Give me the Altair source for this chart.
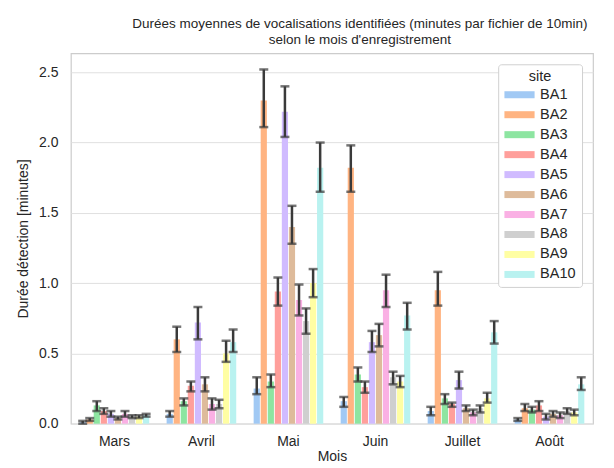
import altair as alt
import pandas as pd

months = ["Mars", "Avril", "Mai", "Juin", "Juillet", "Août"]
sites = ["BA1", "BA2", "BA3", "BA4", "BA5", "BA6", "BA7", "BA8", "BA9", "BA10"]
colors = ["#a1c9f4", "#ffb482", "#8de5a1", "#ff9f9b", "#d0bbff",
          "#debb9b", "#fab0e4", "#cfcfcf", "#fffea3", "#b9f2f0"]

# mean per site (rows) for each month (columns)
mean = [
    [0.01, 0.07, 0.25, 0.16, 0.09, 0.03],
    [0.03, 0.60, 2.30, 1.82, 0.95, 0.11],
    [0.13, 0.16, 0.30, 0.35, 0.18, 0.10],
    [0.09, 0.27, 0.94, 0.26, 0.14, 0.13],
    [0.07, 0.72, 2.22, 0.58, 0.31, 0.05],
    [0.04, 0.28, 1.40, 0.63, 0.11, 0.07],
    [0.07, 0.14, 0.88, 0.95, 0.08, 0.06],
    [0.05, 0.14, 0.73, 0.33, 0.11, 0.09],
    [0.05, 0.50, 1.00, 0.30, 0.18, 0.08],
    [0.06, 0.58, 1.82, 0.77, 0.65, 0.28],
]
ci_lo = [
    [0.00, 0.05, 0.21, 0.12, 0.06, 0.02],
    [0.02, 0.51, 2.11, 1.65, 0.84, 0.09],
    [0.09, 0.13, 0.26, 0.30, 0.14, 0.08],
    [0.07, 0.23, 0.84, 0.22, 0.12, 0.09],
    [0.05, 0.60, 2.04, 0.51, 0.25, 0.03],
    [0.03, 0.23, 1.28, 0.55, 0.09, 0.05],
    [0.05, 0.10, 0.77, 0.83, 0.06, 0.04],
    [0.04, 0.11, 0.64, 0.28, 0.08, 0.07],
    [0.04, 0.44, 0.90, 0.26, 0.15, 0.06],
    [0.05, 0.51, 1.65, 0.67, 0.57, 0.24],
]
ci_hi = [
    [0.02, 0.09, 0.33, 0.19, 0.12, 0.04],
    [0.04, 0.69, 2.52, 1.98, 1.08, 0.14],
    [0.16, 0.18, 0.35, 0.40, 0.21, 0.12],
    [0.11, 0.30, 1.04, 0.30, 0.15, 0.16],
    [0.09, 0.83, 2.40, 0.66, 0.37, 0.07],
    [0.05, 0.33, 1.55, 0.71, 0.13, 0.09],
    [0.09, 0.18, 0.99, 1.06, 0.10, 0.08],
    [0.06, 0.17, 0.82, 0.37, 0.13, 0.11],
    [0.06, 0.59, 1.10, 0.34, 0.22, 0.10],
    [0.07, 0.67, 2.00, 0.86, 0.73, 0.33],
]

rows = []
for i, s in enumerate(sites):
    for j, m in enumerate(months):
        rows.append({"site": s, "Mois": m, "mean": mean[i][j],
                     "lo": ci_lo[i][j], "hi": ci_hi[i][j]})
df = pd.DataFrame(rows)

FONT = "Liberation Sans"
x_enc = alt.X("Mois:N", sort=months, title="Mois",
              scale=alt.Scale(paddingInner=0.2, paddingOuter=0.1),
              axis=alt.Axis(labelAngle=0))
xo_enc = alt.XOffset("site:N", sort=sites, scale=alt.Scale(paddingInner=0.12))

base = alt.Chart(df)

bars = base.mark_bar().encode(
    x=x_enc,
    xOffset=xo_enc,
    y=alt.Y("mean:Q", title="Durée détection [minutes]",
            scale=alt.Scale(domain=[0, 2.635], nice=False),
            axis=alt.Axis(values=[0, 0.5, 1.0, 1.5, 2.0, 2.5], format=".1f",
                          labelPadding=13, titlePadding=8)),
    color=alt.Color("site:N", sort=sites,
                    scale=alt.Scale(domain=sites, range=colors),
                    legend=alt.Legend(title="site", orient="none",
                                      legendX=428, legendY=11,
                                      fillColor="white", strokeColor="#d0d0d0",
                                      padding=6, cornerRadius=3,
                                      symbolType="M-1,-0.36H2.1V0.36H-1Z",
                                      symbolSize=380, symbolStrokeWidth=0,
                                      rowPadding=3, titleAnchor="middle",
                                      labelFontSize=14.5, titleFontSize=14.5,
                                      titlePadding=0,
                                      titleFontWeight="normal", labelOffset=16)),
)

rules = base.mark_rule(color="#3a3a3a", strokeWidth=2.5).encode(
    x=x_enc, xOffset=xo_enc, y="lo:Q", y2="hi:Q")
cap_lo = base.mark_tick(color="#3a3a3a", thickness=2.5, size=9).encode(
    x=x_enc, xOffset=xo_enc, y="lo:Q")
cap_hi = base.mark_tick(color="#3a3a3a", thickness=2.5, size=9).encode(
    x=x_enc, xOffset=xo_enc, y="hi:Q")

chart = alt.layer(bars, rules, cap_lo, cap_hi).properties(
    width=523, height=371,
    title=alt.Title(["Durées moyennes de vocalisations identifiées (minutes par fichier de 10min)",
                     "selon le mois d'enregistrement"],
                    fontSize=13.5, fontWeight="normal", font=FONT, color="#262626",
                    anchor="middle", offset=7, lineHeight=16, dx=28),
).configure_view(stroke="#cccccc", strokeWidth=1.2).configure_axis(
    labelFont=FONT, titleFont=FONT, labelFontSize=14, titleFontSize=14,
    labelColor="#262626", titleColor="#262626", titleFontWeight="normal",
    domain=False, ticks=False, gridColor="#e0e0e0",
).configure_axisX(grid=False, labelPadding=11, titlePadding=1).configure_legend(
    labelFont=FONT, titleFont=FONT, labelColor="#262626", titleColor="#262626"
).properties(padding={"left": 8, "top": 8, "right": 13, "bottom": 0})

chart.save("out.html", embed_options={"renderer": "svg", "actions": False})
